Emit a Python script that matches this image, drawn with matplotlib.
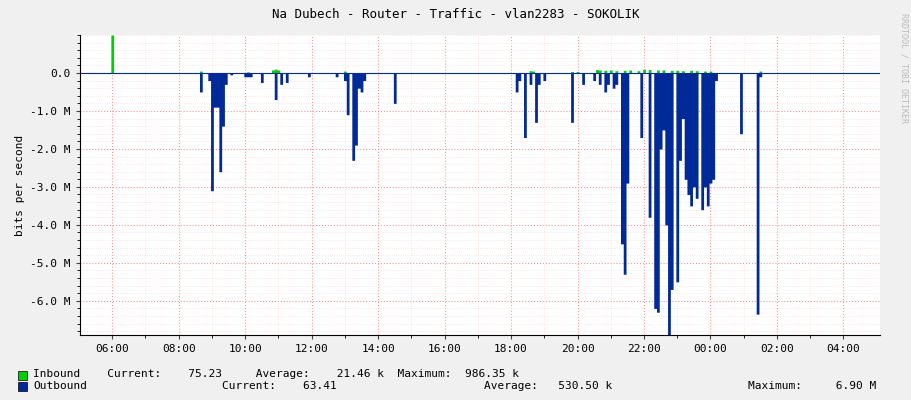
import numpy as np
import matplotlib.pyplot as plt
from matplotlib.patches import Rectangle

plt.rcParams['font.family'] = 'DejaVu Sans Mono'
plt.rcParams['font.size'] = 8

# outbound spikes: (hour, Mbit/s), negative drawn downward
out_h = [8.65, 8.92, 9.01, 9.1, 9.17, 9.25, 9.33, 9.41, 9.6, 10.0, 10.1, 10.2, 10.48, 10.94, 11.1, 11.22,
         11.9, 12.75, 13.02, 13.11, 13.23, 13.32, 13.42, 13.53, 13.6, 14.52,
         18.14, 18.29, 18.44, 18.6, 18.74, 18.83, 18.96, 19.8, 20.16, 20.5, 20.7, 20.85, 20.95, 21.06,
         21.2, 21.36, 21.45, 21.54, 21.9, 22.2, 22.3, 22.39, 22.5, 22.6, 22.66, 22.72, 22.78,
         22.87, 22.96, 23.05, 23.17, 23.26, 23.35, 23.41, 23.5, 23.62, 23.71, 23.8, 23.92,
         24.01, 24.1, 24.19, 24.92, 25.43, 25.51]
out_v = [-0.5, -0.2, -3.1, -0.9, -0.9, -2.6, -1.4, -0.3, -0.05, -0.1, -0.1, -0.1, -0.25, -0.7, -0.3, -0.25,
         -0.1, -0.1, -0.2, -1.1, -2.3, -1.9, -0.4, -0.5, -0.2, -0.8,
         -0.5, -0.2, -1.7, -0.3, -1.3, -0.3, -0.2, -1.3, -0.3, -0.2, -0.3, -0.5, -0.3, -0.4,
         -0.3, -4.5, -5.3, -2.9, -1.7, -3.8, -6.2, -6.3, -2.0, -1.5, -4.0, -6.5, -6.9,
         -5.7, -5.5, -2.3, -1.2, -2.8, -3.2, -3.5, -3.0, -3.3, -3.6, -3.0, -3.5,
         -2.9, -2.8, -0.2, -1.6, -6.35, -0.1]
# inbound: (hour, Mbit/s)
in_h = [6.0, 8.65, 10.1, 10.84, 10.93, 11.02, 13.0, 18.6, 18.7, 19.8, 20.0,
        20.6, 20.7, 20.8, 21.0, 21.2, 21.4, 21.6, 21.8, 22.0, 22.2, 22.4, 22.6, 22.8,
        23.0, 23.2, 23.4, 23.6, 23.8, 24.0, 25.5]
in_v = [1.0, 0.05, 0.03, 0.08, 0.1, 0.08, 0.05, 0.06, 0.05, 0.04, 0.04,
        0.09, 0.08, 0.07, 0.08, 0.06, 0.07, 0.08, 0.06, 0.1, 0.09, 0.08, 0.08, 0.07,
        0.07, 0.06, 0.07, 0.06, 0.05, 0.05, 0.05]

step = 1 / 12.0
t = np.arange(5.0, 29.2, step)
outb = np.zeros_like(t)
inb = np.zeros_like(t)
for h, v in zip(out_h, out_v):
    outb[int(round((h - 5.0) / step))] = v
for h, v in zip(in_h, in_v):
    inb[int(round((h - 5.0) / step))] = v

fig = plt.figure(figsize=(9.11, 4.0), dpi=100, facecolor='#F0F0F0')
ax = fig.add_axes([80 / 911, 65 / 400, 800 / 911, 300 / 400])
ax.set_facecolor('white')

ax.fill_between(t, 0, inb, step='mid', color='#00CF00', lw=0)
ax.fill_between(t, 0, outb, step='mid', color='#002A97', lw=0)
ax.axhline(0, color='#002A97', lw=0.8)

ax.set_xlim(5.03, 29.1)
ax.set_ylim(-6.9, 1.0)
xt = np.arange(6, 29, 2)
xl = ['%02d:00' % (h % 24) for h in xt]
ax.set_xticks(xt)
ax.set_xticklabels(xl)
ax.set_xticks(np.arange(6, 29, 1), minor=True)
yt = np.arange(0, -7, -1)
ax.set_yticks(yt)
ax.set_yticklabels(['0.0'] + ['%.1f M' % v for v in yt[1:]])
ax.set_yticks(np.arange(1.0, -7.0, -0.2), minor=True)
ax.grid(True, which='major', color='#FF9999', ls=':', lw=0.8)
ax.grid(True, which='minor', color='#FFDDDD', ls=':', lw=0.6)
ax.set_axisbelow(True)
ax.tick_params(length=3, colors='#444444', labelcolor='black')
ax.tick_params(which='minor', length=2)
for s in ['top', 'right']:
    ax.spines[s].set_visible(False)
ax.set_ylabel('bits per second')

fig.text(0.5, 0.965, 'Na Dubech - Router - Traffic - vlan2283 - SOKOLIK', ha='center', va='center', fontsize=9)
fig.text(0.992, 0.83, 'RRDTOOL / TOBI OETIKER', rotation=270, ha='center', va='center', fontsize=6, color='#BBBBBB')

fig.patches.append(Rectangle((18 / 911, 1 - 380 / 400), 9 / 911, 9 / 400, transform=fig.transFigure,
                             facecolor='#00CF00', edgecolor='black', lw=0.5))
fig.patches.append(Rectangle((18 / 911, 1 - 391 / 400), 9 / 911, 9 / 400, transform=fig.transFigure,
                             facecolor='#002A97', edgecolor='black', lw=0.5))
fs = 8
fig.text(33 / 911, 1 - 374 / 400, 'Inbound    Current:    75.23     Average:    21.46 k  Maximum:  986.35 k', va='center', fontsize=fs)
fig.text(33 / 911, 1 - 386 / 400, 'Outbound', va='center', fontsize=fs)
fig.text(222 / 911, 1 - 386 / 400, 'Current:    63.41', va='center', fontsize=fs)
fig.text(484 / 911, 1 - 386 / 400, 'Average:   530.50 k', va='center', fontsize=fs)
fig.text(748 / 911, 1 - 386 / 400, 'Maximum:     6.90 M', va='center', fontsize=fs)

fig.savefig('out.png', dpi=100, facecolor=fig.get_facecolor())
